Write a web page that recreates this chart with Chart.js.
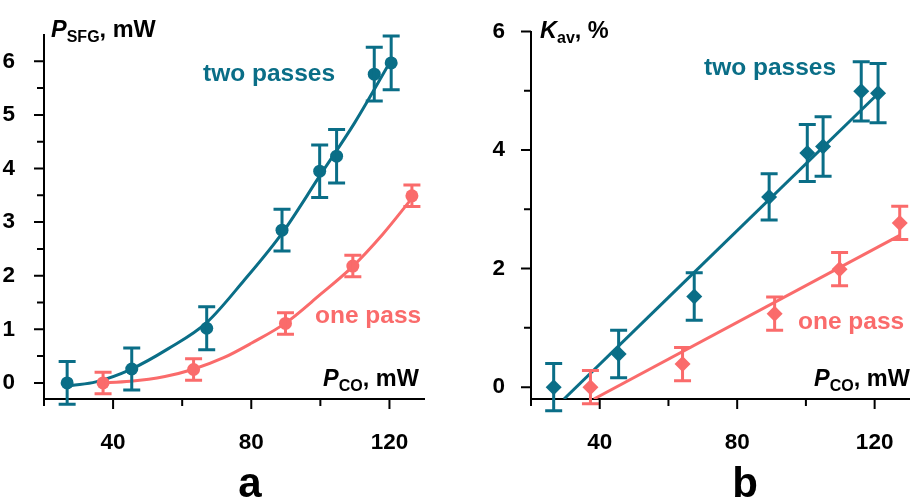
<!DOCTYPE html>
<html>
<head>
<meta charset="utf-8">
<script src="https://cdn.jsdelivr.net/npm/chart.js@4"></script>
<style>
  html,body{margin:0;padding:0;background:#fff;}
  #wrap{position:relative;width:917px;height:499px;overflow:hidden;font-family:"Liberation Sans",Arial,sans-serif;font-weight:bold;}
  canvas{position:absolute;top:0;}
  .t{position:absolute;white-space:nowrap;line-height:1;color:#000;}
  .s{font-size:16px;position:relative;top:5px;}
  .teal{color:#0a6e87;}
  .coral{color:#fa6b6b;}
</style>
</head>
<body>
<div id="wrap">
  <canvas id="ca" width="458" height="499" style="left:0;width:458px;height:499px"></canvas>
  <canvas id="cb" width="458" height="499" style="left:459px;width:458px;height:499px"></canvas>

  <div class="t" style="left:51px;top:18px;font-size:23.5px"><i>P</i><span class="s">SFG</span>, mW</div>
  <div class="t" style="left:323px;top:367px;font-size:23.5px"><i>P</i><span class="s">CO</span>, mW</div>
  <div class="t teal" style="left:203px;top:61px;font-size:24.5px">two passes</div>
  <div class="t coral" style="left:315px;top:302.5px;font-size:24.5px">one pass</div>

  <div class="t" style="left:540px;top:19px;font-size:23.5px"><i>K</i><span class="s">av</span>, %</div>
  <div class="t" style="left:814px;top:367px;font-size:23.5px"><i>P</i><span class="s">CO</span>, mW</div>
  <div class="t teal" style="left:704px;top:55px;font-size:24.5px">two passes</div>
  <div class="t coral" style="left:798px;top:309px;font-size:24.5px">one pass</div>

  <div class="t" style="left:200px;top:462px;width:100px;text-align:center;font-size:42px">a</div>
  <div class="t" style="left:695px;top:462px;width:100px;text-align:center;font-size:42px">b</div>
</div>
<script>
// ---------- Panel a : P_SFG vs P_CO ----------
const aTwoX   = [26.7, 45.4, 67.1, 88.9, 99.8, 104.7, 115.6, 120.5];
const aTwoY   = [0, 0.26, 1.02, 2.85, 3.95, 4.23, 5.76, 5.97];
const aTwoErr = [0.4, 0.39, 0.4, 0.39, 0.49, 0.5, 0.5, 0.5];
const aOneX   = [37.1, 63.3, 89.9, 109.4, 126.5];
const aOneY   = [0, 0.25, 1.11, 2.18, 3.49];
const aOneErr = [0.2, 0.2, 0.2, 0.2, 0.2];
const aTwoFitX = [28, 35, 45, 56, 67, 78, 89, 100, 110, 121];
const aTwoFitY = [-0.05, 0.02, 0.25, 0.64, 1.12, 1.92, 2.8, 3.88, 4.86, 6.08];
const aOneFitX = [36, 45, 55, 63, 72, 80, 90, 100, 109, 118, 126.2];
const aOneFitY = [0, 0.03, 0.12, 0.25, 0.47, 0.74, 1.12, 1.65, 2.15, 2.77, 3.42];
const aYMajor = [0, 1, 2, 3, 4, 5, 6];
const aYMinor = [0.5, 1.5, 2.5, 3.5, 4.5, 5.5];

// ---------- Panel b : K_av vs P_CO ----------
const bTwoX   = [26.6, 45.5, 67.5, 89.3, 100.4, 105, 116.1, 121];
const bTwoY   = [0, 0.56, 1.53, 3.21, 3.95, 4.06, 4.99, 4.96];
const bTwoErr = [0.4, 0.4, 0.4, 0.39, 0.48, 0.5, 0.5, 0.5];
const bOneX   = [37.3, 64.1, 90.9, 109.8, 127.3];
const bOneY   = [0, 0.39, 1.24, 1.99, 2.77];
const bOneErr = [0.28, 0.28, 0.28, 0.28, 0.28];
const bTwoFitX = [29.6, 121.5];
const bTwoFitY = [-0.2, 4.98];
const bOneFitX = [38.3, 127.3];
const bOneFitY = [-0.2, 2.56];
const bYMajor = [0, 2, 4, 6];
const bYMinor = [1, 3, 5];

// shared x ticks
const xMajor = [40, 80, 120];
const xMinor = [20, 60, 100];

const TEAL = '#0a6e87', CORAL = '#fa6b6b';
const FONT = {family: '"Liberation Sans", Arial, sans-serif', size: 22.5, weight: 'bold'};

const pts = (xs, ys) => xs.map((x, i) => ({x, y: ys[i]}));

const deco = {
  id: 'deco',
  afterDatasetsDraw(chart, args, o) {
    const ctx = chart.ctx, xs = chart.scales.x, ys = chart.scales.y;
    o.err.forEach(e => {
      ctx.save();
      ctx.strokeStyle = e.color; ctx.lineWidth = 3; ctx.lineCap = 'butt';
      e.x.forEach((xv, i) => {
        const px = xs.getPixelForValue(xv);
        const t = ys.getPixelForValue(e.y[i] + e.e[i]);
        const b = ys.getPixelForValue(e.y[i] - e.e[i]);
        ctx.beginPath();
        ctx.moveTo(px, t); ctx.lineTo(px, b);
        ctx.moveTo(px - 8.5, t); ctx.lineTo(px + 8.5, t);
        ctx.moveTo(px - 8.5, b); ctx.lineTo(px + 8.5, b);
        ctx.stroke();
      });
      ctx.restore();
    });
  },
  afterDraw(chart, args, o) {
    const ctx = chart.ctx, xs = chart.scales.x, ys = chart.scales.y, ca = chart.chartArea;
    ctx.save();
    ctx.strokeStyle = '#000'; ctx.lineWidth = 2;
    ctx.beginPath();
    o.yMajor.forEach(v => { const p = ys.getPixelForValue(v); ctx.moveTo(ca.left, p); ctx.lineTo(ca.left - 10, p); });
    o.yMinor.forEach(v => { const p = ys.getPixelForValue(v); ctx.moveTo(ca.left, p); ctx.lineTo(ca.left - 7, p); });
    o.xMajor.forEach(v => { const p = xs.getPixelForValue(v); ctx.moveTo(p, ca.bottom); ctx.lineTo(p, ca.bottom + 10); });
    o.xMinor.forEach(v => { const p = xs.getPixelForValue(v); ctx.moveTo(p, ca.bottom); ctx.lineTo(p, ca.bottom + 7); });
    ctx.stroke();
    ctx.restore();
  }
};

function makeChart(id, cfg) {
  const markerStyle = cfg.marker;
  return new Chart(document.getElementById(id), {
    type: 'scatter',
    data: {
      datasets: [
        {data: pts(cfg.twoX, cfg.twoY), pointStyle: markerStyle, pointRadius: cfg.r, backgroundColor: TEAL, borderColor: TEAL, borderWidth: 0, showLine: false},
        {data: pts(cfg.oneX, cfg.oneY), pointStyle: markerStyle, pointRadius: cfg.r, backgroundColor: CORAL, borderColor: CORAL, borderWidth: 0, showLine: false},
        {data: pts(cfg.twoFitX, cfg.twoFitY), showLine: true, borderColor: TEAL, borderWidth: 3, pointRadius: 0, cubicInterpolationMode: 'monotone', fill: false},
        {data: pts(cfg.oneFitX, cfg.oneFitY), showLine: true, borderColor: CORAL, borderWidth: 3, pointRadius: 0, cubicInterpolationMode: 'monotone', fill: false}
      ]
    },
    options: {
      responsive: false,
      animation: false,
      events: [],
      layout: {padding: {left: 0, right: cfg.padRight, top: 19, bottom: 0}},
      plugins: {
        legend: {display: false},
        tooltip: {enabled: false},
        deco: {
          err: [
            {x: cfg.twoX, y: cfg.twoY, e: cfg.twoErr, color: TEAL},
            {x: cfg.oneX, y: cfg.oneY, e: cfg.oneErr, color: CORAL}
          ],
          yMajor: cfg.yMajor, yMinor: cfg.yMinor, xMajor: xMajor, xMinor: xMinor
        }
      },
      scales: {
        x: {
          type: 'linear', min: 20, max: 130,
          grid: {display: false},
          border: {display: true, color: '#000', width: 2},
          afterBuildTicks: s => { s.ticks = xMajor.map(v => ({value: v})); },
          ticks: {color: '#000', font: FONT, padding: 22, maxRotation: 0, autoSkip: false},
          afterFit: s => { s.height = 100; }
        },
        y: {
          type: 'linear', min: cfg.yMin, max: cfg.yMax,
          grid: {display: false},
          border: {display: true, color: '#000', width: 2},
          afterBuildTicks: s => { s.ticks = cfg.yMajor.map(v => ({value: v})); },
          ticks: {color: '#000', font: FONT, padding: cfg.yPad, autoSkip: false},
          afterFit: s => { s.width = cfg.yWidth; }
        }
      }
    },
    plugins: [deco]
  });
}

makeChart('ca', {
  twoX: aTwoX, twoY: aTwoY, twoErr: aTwoErr, oneX: aOneX, oneY: aOneY, oneErr: aOneErr,
  twoFitX: aTwoFitX, twoFitY: aTwoFitY, oneFitX: aOneFitX, oneFitY: aOneFitY,
  yMajor: aYMajor, yMinor: aYMinor, yMin: -0.3, yMax: 6.5,
  marker: 'circle', r: 6.5, yWidth: 44, yPad: 21, padRight: 34
});
makeChart('cb', {
  twoX: bTwoX, twoY: bTwoY, twoErr: bTwoErr, oneX: bOneX, oneY: bOneY, oneErr: bOneErr,
  twoFitX: bTwoFitX, twoFitY: bTwoFitY, oneFitX: bOneFitX, oneFitY: bOneFitY,
  yMajor: bYMajor, yMinor: bYMinor, yMin: -0.2, yMax: 6,
  marker: 'rectRot', r: 8, yWidth: 72, yPad: 18, padRight: 4
});
</script>
</body>
</html>
